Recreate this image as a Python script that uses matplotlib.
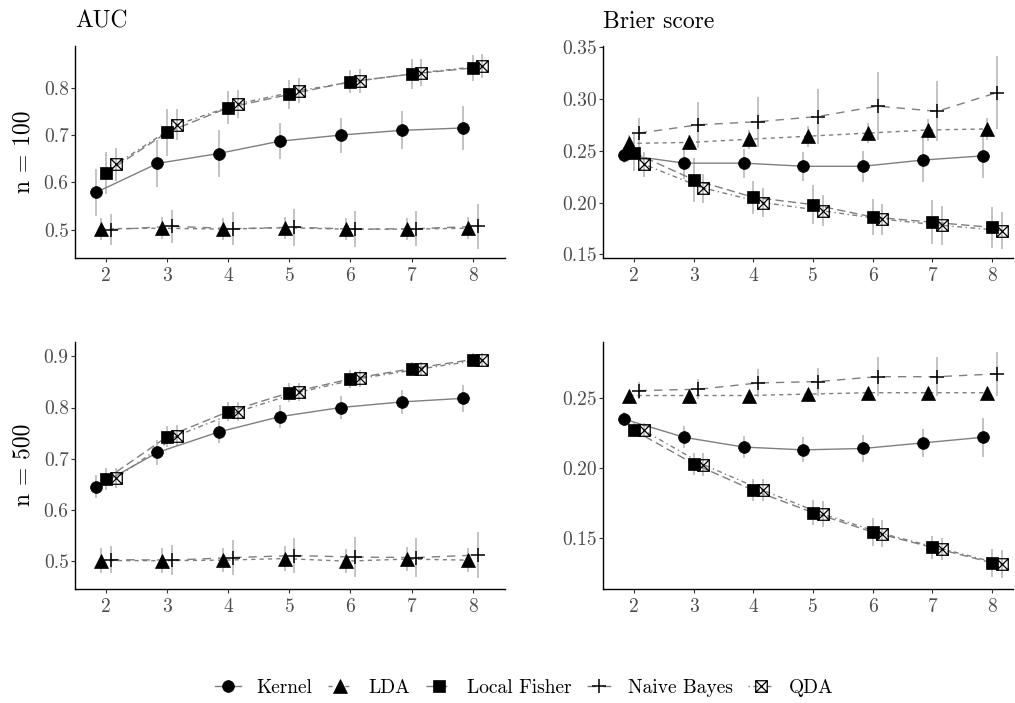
import matplotlib
matplotlib.use("Agg")
import matplotlib.pyplot as plt
from matplotlib.path import Path
from matplotlib.lines import Line2D
import numpy as np

plt.rcParams['font.family'] = ['cmr10', 'DejaVu Serif']
plt.rcParams['axes.formatter.use_mathtext'] = True

methods = ["Kernel", "LDA", "Local Fisher", "Naive Bayes", "QDA"]
dims = [2, 3, 4, 5, 6, 7, 8]

# rows: Kernel, LDA, Local Fisher, Naive Bayes, QDA
auc_n100 = [
    [0.579, 0.640, 0.661, 0.687, 0.700, 0.710, 0.715],
    [0.502, 0.503, 0.501, 0.504, 0.501, 0.501, 0.503],
    [0.620, 0.706, 0.758, 0.786, 0.813, 0.829, 0.842],
    [0.500, 0.507, 0.502, 0.505, 0.501, 0.502, 0.507],
    [0.638, 0.722, 0.766, 0.794, 0.815, 0.832, 0.846],
]
auc_n100_err = [
    [0.050, 0.050, 0.050, 0.038, 0.037, 0.040, 0.047],
    [0.023, 0.023, 0.023, 0.023, 0.023, 0.023, 0.023],
    [0.045, 0.050, 0.035, 0.031, 0.025, 0.031, 0.027],
    [0.032, 0.035, 0.035, 0.039, 0.038, 0.037, 0.047],
    [0.035, 0.033, 0.030, 0.026, 0.025, 0.029, 0.025],
]
brier_n100 = [
    [0.246, 0.238, 0.238, 0.235, 0.235, 0.241, 0.245],
    [0.257, 0.258, 0.261, 0.264, 0.267, 0.270, 0.271],
    [0.248, 0.222, 0.205, 0.198, 0.186, 0.181, 0.176],
    [0.267, 0.275, 0.278, 0.283, 0.293, 0.288, 0.306],
    [0.237, 0.214, 0.200, 0.192, 0.184, 0.178, 0.173],
]
brier_n100_err = [
    [0.008, 0.015, 0.014, 0.014, 0.015, 0.021, 0.021],
    [0.008, 0.007, 0.009, 0.010, 0.010, 0.011, 0.011],
    [0.018, 0.021, 0.016, 0.019, 0.017, 0.021, 0.020],
    [0.015, 0.022, 0.024, 0.027, 0.033, 0.029, 0.035],
    [0.012, 0.014, 0.014, 0.015, 0.015, 0.019, 0.018],
]
auc_n500 = [
    [0.645, 0.712, 0.752, 0.782, 0.800, 0.811, 0.818],
    [0.500, 0.500, 0.501, 0.504, 0.499, 0.503, 0.501],
    [0.660, 0.743, 0.792, 0.829, 0.856, 0.876, 0.894],
    [0.502, 0.501, 0.506, 0.510, 0.507, 0.506, 0.511],
    [0.662, 0.745, 0.792, 0.830, 0.857, 0.876, 0.894],
]
auc_n500_err = [
    [0.022, 0.025, 0.022, 0.022, 0.023, 0.023, 0.026],
    [0.024, 0.024, 0.024, 0.024, 0.024, 0.024, 0.024],
    [0.022, 0.020, 0.019, 0.019, 0.018, 0.013, 0.012],
    [0.027, 0.029, 0.035, 0.035, 0.039, 0.038, 0.045],
    [0.020, 0.020, 0.019, 0.018, 0.017, 0.013, 0.012],
]
brier_n500 = [
    [0.235, 0.222, 0.215, 0.213, 0.214, 0.218, 0.222],
    [0.252, 0.252, 0.252, 0.253, 0.254, 0.254, 0.254],
    [0.227, 0.203, 0.184, 0.168, 0.154, 0.143, 0.132],
    [0.2555, 0.2565, 0.261, 0.262, 0.2655, 0.2655, 0.2675],
    [0.227, 0.2025, 0.184, 0.167, 0.153, 0.142, 0.131],
]
brier_n500_err = [
    [0.005, 0.008, 0.008, 0.009, 0.010, 0.010, 0.014],
    [0.004, 0.004, 0.004, 0.004, 0.004, 0.004, 0.004],
    [0.005, 0.008, 0.008, 0.009, 0.010, 0.008, 0.010],
    [0.006, 0.007, 0.010, 0.010, 0.014, 0.014, 0.016],
    [0.005, 0.008, 0.008, 0.009, 0.010, 0.008, 0.010],
]

auc_n100_ticks = [0.5, 0.6, 0.7, 0.8]
brier_n100_ticks = [0.15, 0.20, 0.25, 0.30, 0.35]
auc_n500_ticks = [0.5, 0.6, 0.7, 0.8, 0.9]
brier_n500_ticks = [0.15, 0.20, 0.25]

# square with a cross (ggplot shape 7)
qda_marker = Path(
    [(-1, -1), (1, -1), (1, 1), (-1, 1), (-1, -1), (-1, -1), (1, 1), (-1, 1), (1, -1)],
    [Path.MOVETO, Path.LINETO, Path.LINETO, Path.LINETO, Path.CLOSEPOLY,
     Path.MOVETO, Path.LINETO, Path.MOVETO, Path.LINETO])

offsets = [-0.16, -0.08, 0.0, 0.08, 0.16]
markers = ['o', '^', 's', '+', qda_marker]
msizes = [8.5, 9.5, 8.5, 10, 8.3]
styles = ['-', (0, (3, 3)), (0, (6, 3)), (0, (6, 5)), (0, (1, 2.5, 3.5, 2.5))]

line_col = '#7f7f7f'
err_col = '#b3b3b3'


def marker_kw(i):
    kw = dict(marker=markers[i], markersize=msizes[i], markeredgecolor='black')
    if i == 4:
        kw.update(markerfacecolor='none', markeredgewidth=0.9)
    elif i == 3:
        kw.update(markeredgewidth=1.1)
    else:
        kw.update(markerfacecolor='black', markeredgewidth=0.5)
    return kw


def draw_panel(ax, means, errs, ticks, fmt, ylim, xlim):
    x = np.array(dims, dtype=float)
    for i in range(len(methods)):
        xs = x + offsets[i]
        m = np.array(means[i])
        e = np.array(errs[i])
        ax.vlines(xs, m - e, m + e, color=err_col, lw=1.1, zorder=1)
        ax.plot(xs, m, color=line_col, lw=1.0, linestyle=styles[i], zorder=2)
        ax.plot(xs, m, linestyle='none', zorder=3, **marker_kw(i))
    ax.set_xlim(*xlim)
    ax.set_ylim(*ylim)
    ax.set_xticks(dims)
    ax.set_xticklabels([str(d) for d in dims])
    ax.set_yticks(ticks)
    ax.set_yticklabels([fmt.format(t) for t in ticks])
    for s in ['top', 'right']:
        ax.spines[s].set_visible(False)
    for s in ['left', 'bottom']:
        ax.spines[s].set_linewidth(1.0)
        ax.spines[s].set_color('black')
    ax.tick_params(axis='both', length=3, width=0.8, color='#333333',
                   labelcolor='#4d4d4d', labelsize=14)
    ax.tick_params(axis='y', pad=1.5)
    ax.tick_params(axis='x', pad=3.5)


W, H = 1015, 703
fig = plt.figure(figsize=(W / 100, H / 100), dpi=100)


def px_axes(left, top, right, bottom):
    return fig.add_axes([left / W, 1 - bottom / H, (right - left) / W, (bottom - top) / H])


ax_tl = px_axes(75, 45.7, 505, 258)
ax_tr = px_axes(603.3, 45.7, 1013, 258)
ax_bl = px_axes(75, 341.7, 505, 588.7)
ax_br = px_axes(603.3, 341.7, 1013, 588.7)

draw_panel(ax_tl, auc_n100, auc_n100_err, auc_n100_ticks, '{:.1f}', (0.44, 0.889), (1.49, 8.53))
draw_panel(ax_tr, brier_n100, brier_n100_err, brier_n100_ticks, '{:.2f}', (0.1465, 0.3513), (1.486, 8.35))
draw_panel(ax_bl, auc_n500, auc_n500_err, auc_n500_ticks, '{:.1f}', (0.445, 0.929), (1.49, 8.53))
draw_panel(ax_br, brier_n500, brier_n500_err, brier_n500_ticks, '{:.2f}', (0.1134, 0.2906), (1.486, 8.35))

fig.text(75 / W, 1 - 28 / H, 'AUC', fontsize=17, ha='left', va='baseline')
fig.text(603 / W, 1 - 28 / H, 'Brier score', fontsize=17, ha='left', va='baseline')
fig.text(23 / W, 1 - 151.8 / H, 'n = 100', fontsize=17, rotation=90, ha='center', va='center')
fig.text(23 / W, 1 - 465 / H, 'n = 500', fontsize=17, rotation=90, ha='center', va='center')

handles = []
for i in range(len(methods)):
    handles.append(Line2D([], [], color=line_col, lw=1.0, linestyle=styles[i], **marker_kw(i)))
fig.legend(handles, methods, loc='center', bbox_to_anchor=(524.5 / W, 1 - 688 / H),
           ncol=5, frameon=False, fontsize=14, handlelength=1.3, handletextpad=0.8,
           columnspacing=0.8)

fig.savefig('out.png', dpi=100)
